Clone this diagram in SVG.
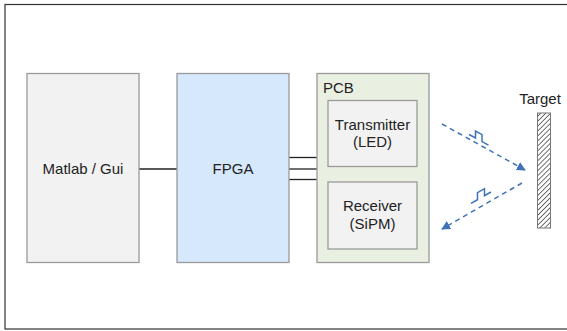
<svg xmlns="http://www.w3.org/2000/svg" width="567" height="331" viewBox="0 0 567 331">
<style>
text{font-family:"Liberation Sans",Arial,sans-serif;font-size:15px;fill:#222}
.box{stroke:#9a9a9a;stroke-width:1.3}
.wire{stroke:#222;stroke-width:1.3;fill:none}
.ray{stroke:#3f72b8;stroke-width:1.5;stroke-dasharray:5 4;fill:none}
.pulse{stroke:#3f72b8;stroke-width:1.5;fill:none}
</style>
<defs>
<marker id="ahb" viewBox="0 0 10 10" refX="9" refY="5" markerWidth="9" markerHeight="9" orient="auto" markerUnits="userSpaceOnUse">
<path d="M0,0 L10,5 L0,10 z" fill="#3f72b8"/>
</marker>
<pattern id="hatch" patternUnits="userSpaceOnUse" width="3.5" height="3.5" patternTransform="rotate(45)">
<rect width="3.5" height="3.5" fill="#fff"/>
<line x1="0" y1="0" x2="0" y2="3.5" stroke="#333" stroke-width="1.4"/>
</pattern>
</defs>
<rect x="5" y="4.5" width="570" height="324.5" fill="#fff" stroke="#333" stroke-width="1.2"/>
<g id="connectors">
<line class="wire" x1="139" y1="169" x2="177" y2="169"/>
<line class="wire" x1="289" y1="157.5" x2="317" y2="157.5"/>
<line class="wire" x1="289" y1="169" x2="317" y2="169"/>
<line class="wire" x1="289" y1="179.5" x2="317" y2="179.5"/>
<line class="ray" x1="442" y1="124" x2="525" y2="170" marker-end="url(#ahb)"/>
<line class="ray" x1="522" y1="183" x2="442" y2="229" marker-end="url(#ahb)"/>
<path class="pulse" d="M469,134.5 L475.5,138 L475.5,131 L482,134.6 L482,141.6 L488.5,145.2"/>
<path class="pulse" d="M491,192 L484.5,195.7 L484.5,188.7 L477.5,192.7 L477.5,199.7 L471,203.4"/>
</g>
<g id="matlab">
<rect class="box" x="27" y="73.5" width="112" height="189" fill="#f2f2f2"/>
<text x="83" y="174" text-anchor="middle">Matlab / Gui</text>
</g>
<g id="fpga">
<rect class="box" x="177" y="73.5" width="112" height="189" fill="#d6e8fb"/>
<text x="233" y="174" text-anchor="middle">FPGA</text>
</g>
<g id="pcb">
<rect class="box" x="317" y="73.5" width="112" height="189" fill="#e9f0e1"/>
<text x="323" y="93">PCB</text>
</g>
<g id="transmitter">
<rect class="box" x="328" y="100.5" width="89" height="66" fill="#f2f2f2"/>
<text x="372.5" y="129.5" text-anchor="middle">Transmitter</text>
<text x="372.5" y="147" text-anchor="middle">(LED)</text>
</g>
<g id="receiver">
<rect class="box" x="328" y="182" width="89" height="67" fill="#f2f2f2"/>
<text x="372.5" y="211" text-anchor="middle">Receiver</text>
<text x="372.5" y="229" text-anchor="middle">(SiPM)</text>
</g>
<g id="target">
<rect x="537.5" y="113" width="13" height="115" fill="url(#hatch)" stroke="#777" stroke-width="1"/>
<text x="540" y="104" text-anchor="middle">Target</text>
</g>
</svg>
